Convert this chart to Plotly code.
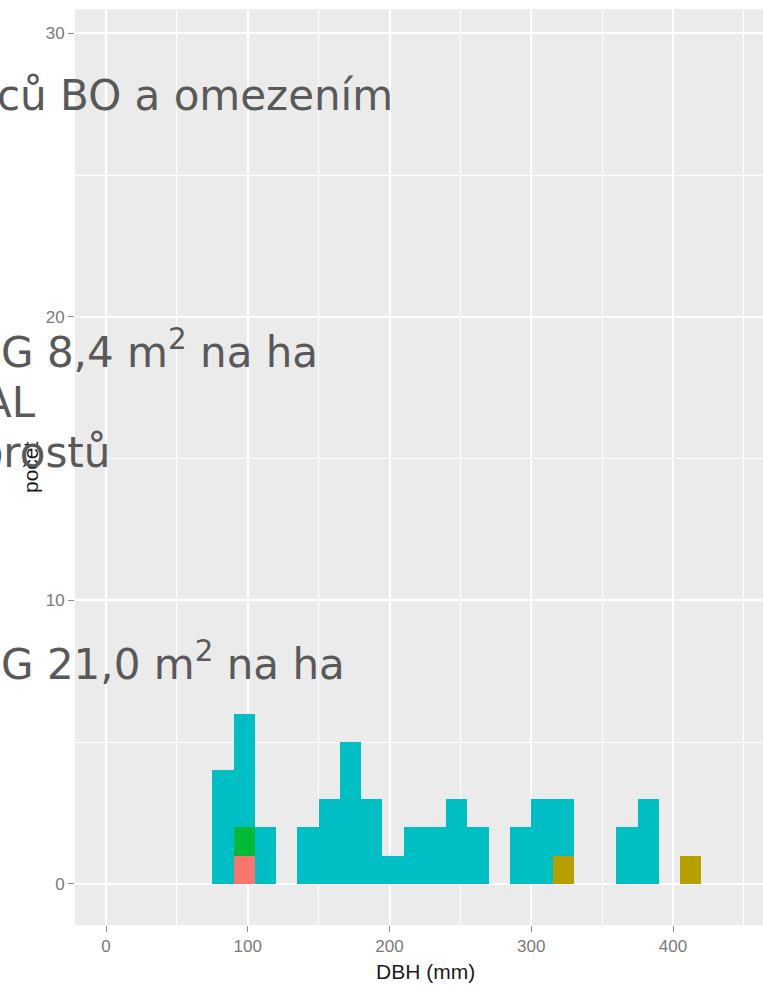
import plotly.graph_objects as go

# histogram DBH, bins of 15 mm (left edges)
bin_starts = [75, 90, 105, 120, 135, 150, 165, 180, 195, 210, 225, 240,
              255, 270, 285, 300, 315, 330, 345, 360, 375, 390, 405]
bin_width = 15

# counts per species (stack order bottom -> top)
count_red = [0, 1, 0, 0, 0, 0, 0, 0, 0, 0, 0, 0,
             0, 0, 0, 0, 0, 0, 0, 0, 0, 0, 0]
count_gold = [0, 0, 0, 0, 0, 0, 0, 0, 0, 0, 0, 0,
              0, 0, 0, 0, 1, 0, 0, 0, 0, 0, 1]
count_green = [0, 1, 0, 0, 0, 0, 0, 0, 0, 0, 0, 0,
               0, 0, 0, 0, 0, 0, 0, 0, 0, 0, 0]
count_teal = [4, 4, 2, 0, 2, 3, 5, 3, 1, 2, 2, 3,
              2, 0, 2, 3, 2, 0, 0, 2, 3, 0, 0]

series = [
    ('druh 1', count_red, '#F8766D'),
    ('druh 2', count_gold, '#B79F00'),
    ('druh 3', count_green, '#00BA38'),
    ('druh 4', count_teal, '#00BFC4'),
]

x_ticks = [0, 100, 200, 300, 400]
y_ticks = [0, 10, 20, 30]

# slide text lying over the chart
slide_lines = [
    ('ců BO a omezením', 393, 108),
    ('G 8,4 m<sup>2</sup> na ha', 318, 362),
    ('AL', 36, 415),
    ('porostů', 110, 465),
    ('G 21,0 m<sup>2</sup> na ha', 345, 674),
]

W, H = 763, 985
ML, MR, MT, MB = 75, 0, 9, 60
PW, PH = W - ML - MR, H - MT - MB


def px_x(px):
    return (px - ML) / PW


def px_y(py):
    return (H - MB - py) / PH


centers = [s + bin_width / 2 for s in bin_starts]

fig = go.Figure()
for name, vals, col in series:
    fig.add_trace(go.Bar(
        x=centers, y=vals, width=bin_width, name=name,
        marker=dict(color=col, line=dict(width=0)),
        showlegend=False
    ))

annotations = []
# axis titles
annotations.append(dict(
    text='DBH (mm)', x=px_x(425), y=px_y(971), xref='paper', yref='paper',
    showarrow=False, xanchor='center', yanchor='middle',
    font=dict(family='Liberation Sans', size=21, color='#1a1a1a')
))
annotations.append(dict(
    text='počet', x=px_x(30), y=px_y(467), xref='paper', yref='paper',
    showarrow=False, xanchor='center', yanchor='middle', textangle=-90,
    font=dict(family='Liberation Sans', size=21, color='#1a1a1a')
))
for txt, right, base in slide_lines:
    annotations.append(dict(
        text=txt, x=px_x(right + 2), y=px_y(base - 13), xref='paper', yref='paper',
        showarrow=False, xanchor='right', yanchor='middle',
        font=dict(family='DejaVu Sans', size=42, color='#595959')
    ))

fig.update_layout(
    width=W, height=H,
    margin=dict(l=ML, r=MR, t=MT, b=MB),
    barmode='stack', bargap=0,
    paper_bgcolor='white', plot_bgcolor='#EBEBEB',
    font=dict(family='Liberation Sans', size=17, color='#7a7a7a'),
    xaxis=dict(
        range=[-21.9, 463.5], tickvals=x_ticks, ticks='outside', ticklen=6,
        tickcolor='#8a8a8a', tickwidth=1,
        showgrid=True, gridcolor='white', gridwidth=1.6,
        minor=dict(dtick=50, tick0=0, showgrid=True, gridcolor='white', gridwidth=0.8),
        zeroline=False, showline=False
    ),
    yaxis=dict(
        range=[-1.45, 30.86], tickvals=y_ticks, ticks='outside', ticklen=6,
        tickcolor='#8a8a8a', tickwidth=1,
        showgrid=True, gridcolor='white', gridwidth=1.6,
        minor=dict(dtick=5, tick0=0, showgrid=True, gridcolor='white', gridwidth=0.8),
        zeroline=False, showline=False
    ),
    annotations=annotations
)

# page body has a default margin; drop it so the figure sits at the corner
fig.write_html("out.html", config={'displayModeBar': False},
               post_script="document.body.style.margin='0';")
